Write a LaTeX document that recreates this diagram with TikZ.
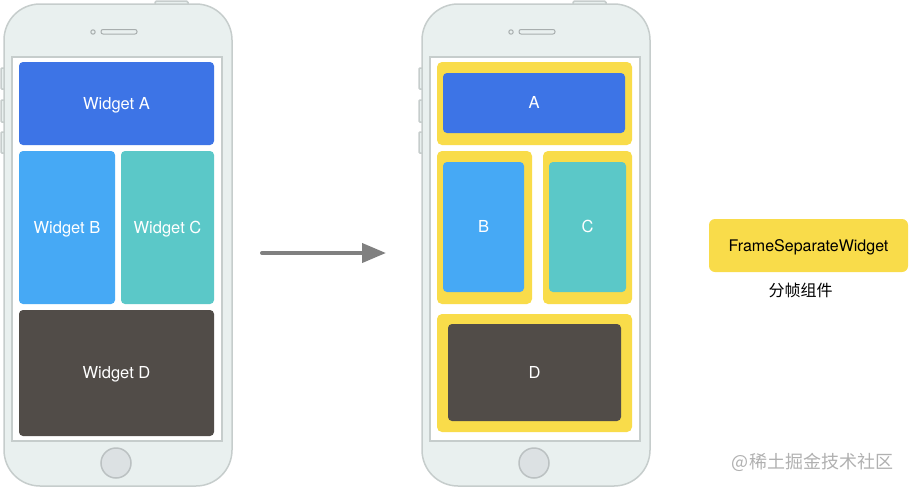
\documentclass[tikz,border=0pt]{standalone}
\usepackage{fontspec}
\setmainfont{TeX Gyre Heros}
\newfontfamily\cjk{Noto Sans CJK SC}
\usetikzlibrary{arrows.meta}
\definecolor{phonefill}{HTML}{E9F0EF}
\definecolor{phonestroke}{HTML}{C6CDCC}
\definecolor{homefill}{HTML}{DCE1E3}
\definecolor{homestroke}{HTML}{BBC1C2}
\definecolor{speaker}{HTML}{A8AEAE}
\definecolor{wa}{HTML}{3D74E6}
\definecolor{wb}{HTML}{46A9F5}
\definecolor{wc}{HTML}{5BC8C8}
\definecolor{wd}{HTML}{514C48}
\definecolor{wy}{HTML}{F9DC4A}
\definecolor{arrowgray}{HTML}{808080}
\definecolor{markgray}{HTML}{B0B0B0}
\tikzset{
  widget/.style={rounded corners=4pt, inner sep=0pt, text=white,
    text height=11.5pt, text depth=0pt,
    font=\fontsize{16.5}{19}\selectfont},
  frame/.style={rounded corners=5pt, inner sep=0pt, fill=wy},
  phonepart/.style={fill=phonefill, draw=phonestroke, line width=1.5pt},
  phone/.pic={
    \path[phonepart, rounded corners=1.5pt] (155,1) rectangle (188,8);
    \path[phonepart, rounded corners=1pt] (1,68) rectangle (6,89);
    \path[phonepart, rounded corners=1pt] (1,100) rectangle (6,122);
    \path[phonepart, rounded corners=1pt] (1,132) rectangle (6,153);
    \path[phonepart, rounded corners=36pt] (4,4) rectangle (232,486);
    \path[fill=white, draw=phonestroke, line width=1.5pt] (12,57) rectangle (222,441);
    \draw[speaker, line width=1pt] (93,32) circle[radius=2.2pt];
    \draw[speaker, line width=1pt, rounded corners=2pt] (101,29.5) rectangle (137,34);
    \path[fill=homefill, draw=homestroke, line width=1.5pt] (116,463) circle[radius=15pt];
  }
}
\begin{document}
\begin{tikzpicture}[x=1pt, y=-1pt]
\useasboundingbox (0,0) rectangle (909,488);
\pic at (0,0) {phone};
\pic at (418,0) {phone};
% left phone widgets
\node[widget, fill=wa, minimum width=195pt, minimum height=83pt] (wA) at (116.5,103.5) {Widget A};
\node[widget, fill=wb, minimum width=96pt, minimum height=153pt] (wB) at (67,227.5) {Widget B};
\node[widget, fill=wc, minimum width=93pt, minimum height=153pt] (wC) at (167.5,227.5) {Widget C};
\node[widget, fill=wd, minimum width=195pt, minimum height=126pt] (wD) at (116.5,373) {Widget D};
% right phone frames
\node[frame, minimum width=195pt, minimum height=83pt] (fA) at (534.5,103.5) {};
\node[frame, minimum width=95pt, minimum height=153pt] (fB) at (484.5,227.5) {};
\node[frame, minimum width=89pt, minimum height=153pt] (fC) at (587.5,227.5) {};
\node[frame, minimum width=195pt, minimum height=118pt] (fD) at (534.5,373) {};
\node[widget, fill=wa, minimum width=182pt, minimum height=60pt] (iA) at (534,103) {A};
\node[widget, fill=wb, minimum width=81pt, minimum height=130pt] (iB) at (483.5,227) {B};
\node[widget, fill=wc, minimum width=77pt, minimum height=130pt] (iC) at (587.5,227) {C};
\node[widget, fill=wd, minimum width=173pt, minimum height=97pt] (iD) at (534.5,372.5) {D};
% arrow
\coordinate (arrS) at (262,253);
\coordinate (arrE) at (386,253);
\draw[arrowgray, line width=4pt, line cap=round, -{Triangle[length=24pt, width=19pt]}] (arrS) -- (arrE);
% legend
\node[frame, rounded corners=6pt, minimum width=199pt, minimum height=53pt,
  text height=11.5pt, text depth=0pt,
  font=\fontsize{16}{19}\selectfont] (legend) at (808.5,245.5) {FrameSeparateWidget};
\node[font=\cjk\fontsize{16}{19}\selectfont, inner sep=0pt] (legendtext) at (800.5,290) {分帧组件};
\node[font=\cjk\fontsize{18}{21}\selectfont, text=markgray, inner sep=0pt] (mark) at (812.5,462) {@稀土掘金技术社区};
\end{tikzpicture}
\end{document}
